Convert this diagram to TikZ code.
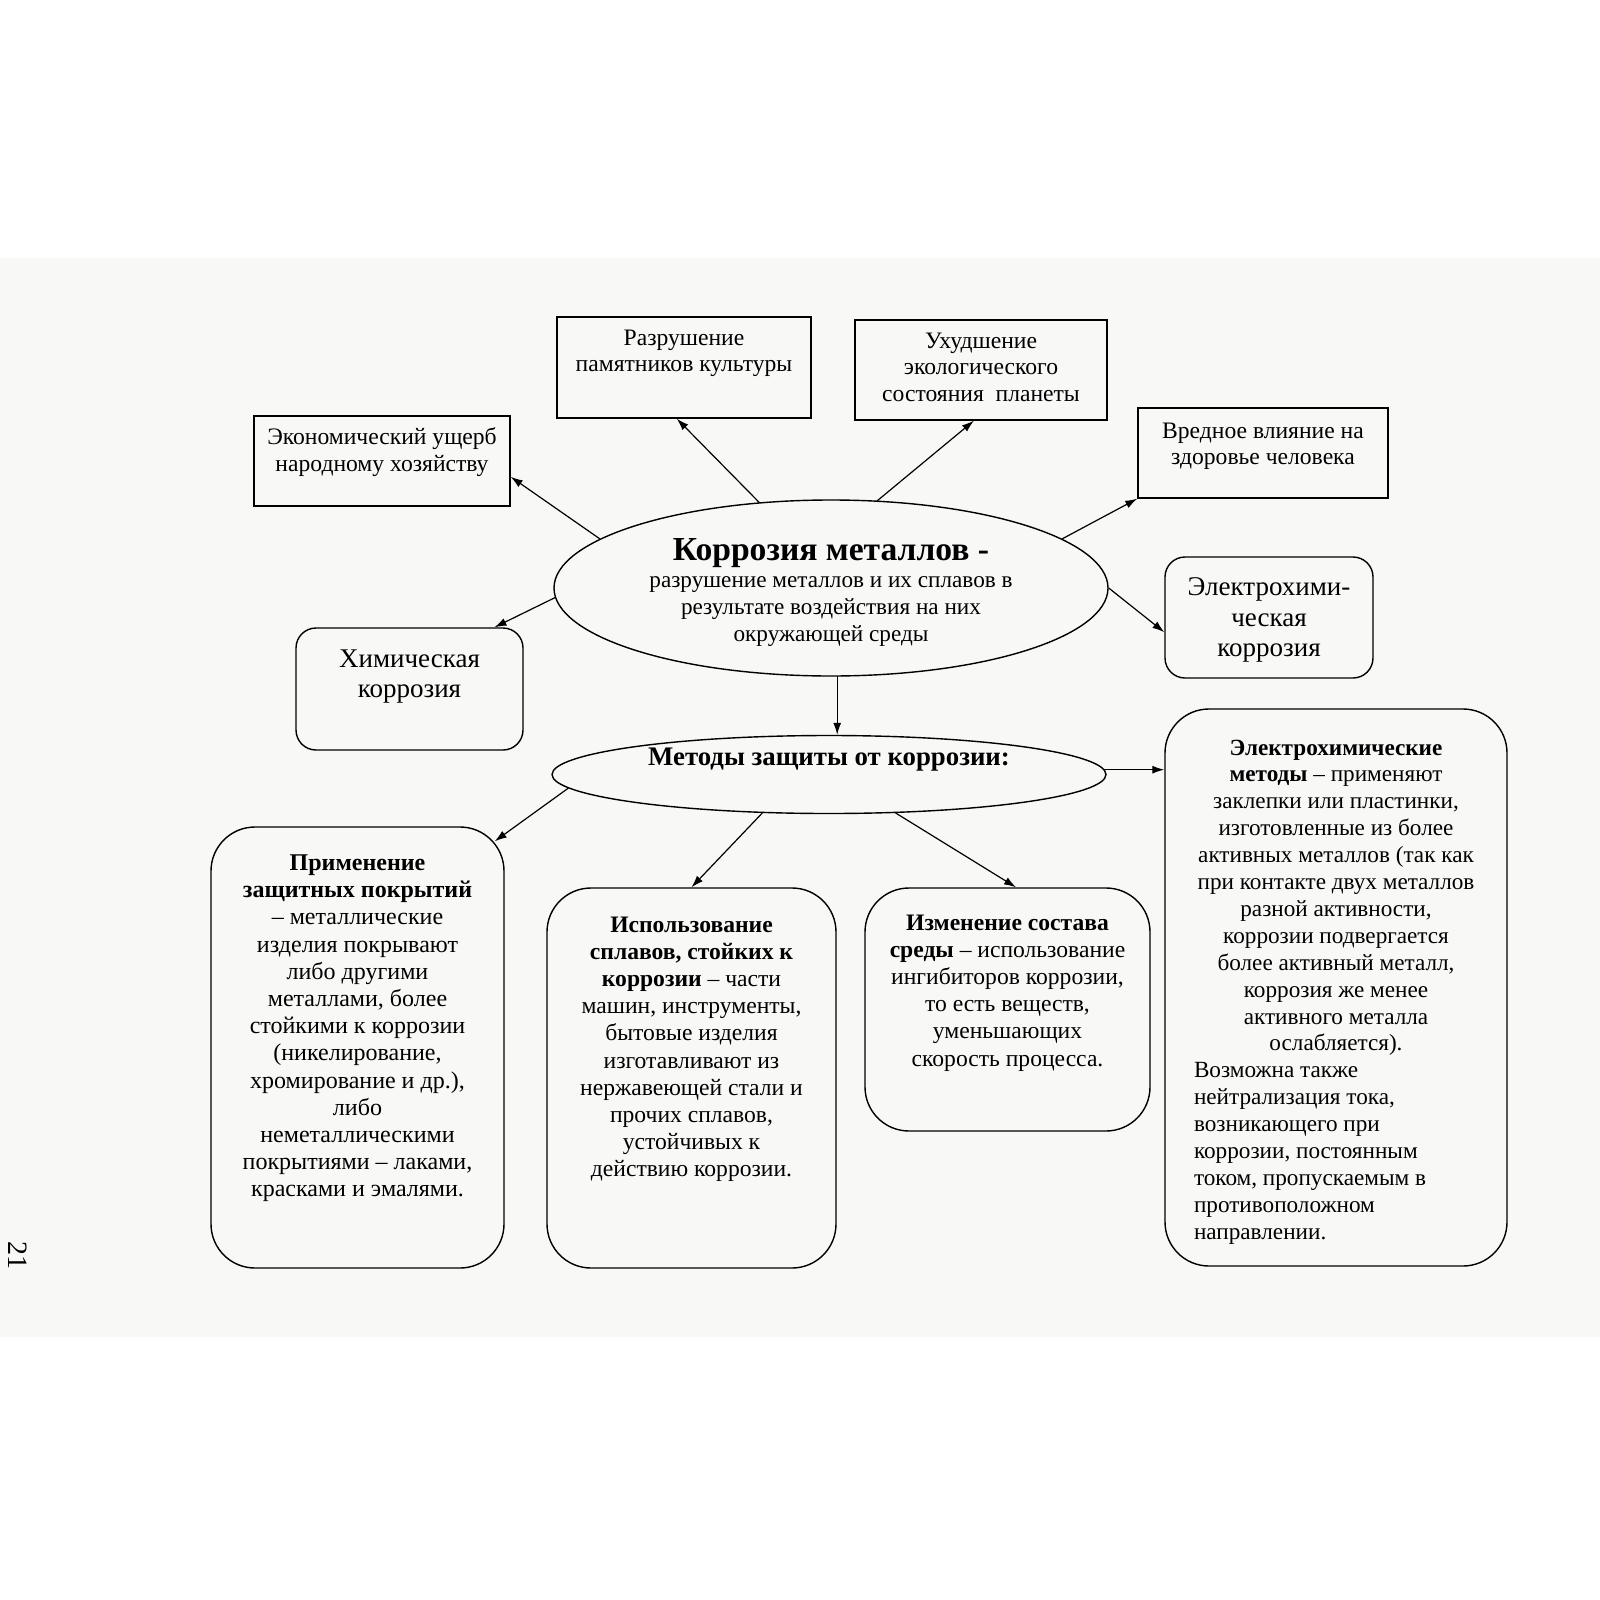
\documentclass[tikz,border=0pt]{standalone}
\usepackage{fontspec}
\setmainfont{Liberation Serif}
\usetikzlibrary{positioning,shapes.geometric,calc,arrows.meta}

\definecolor{pagetint}{RGB}{248,248,247}

\tikzset{
  plainbox/.style={draw, rectangle, inner sep=0pt, line width=0.7pt},
  roundbox/.style={draw, rectangle, rounded corners=10pt, inner sep=0pt, line width=0.7pt},
  bigbox/.style={draw, rectangle, rounded corners=22pt, inner sep=0pt, line width=0.7pt},
  oval/.style={draw, ellipse, inner sep=0pt, line width=0.7pt},
  smalltext/.style={inner sep=0pt, align=center, font=\fontsize{11.8}{13.3}\selectfont},
  largetext/.style={inner sep=0pt, align=center, font=\fontsize{13.5}{15.3}\selectfont},
  methtext/.style={inner sep=0pt, align=center, font=\fontsize{11.8}{13.6}\selectfont},
  link/.style={->, line width=0.6pt}
}

\begin{document}
\begin{tikzpicture}[x=0.5pt,y=-0.5pt,cap=round,>={Latex[length=6pt,width=4pt]}]
  \useasboundingbox (0,0) rectangle (1600,1600);
  % scanned page
  \fill[pagetint] (0,258) rectangle (1600,1337);

  % consequences of corrosion
  \node[plainbox, minimum width=128pt, minimum height=45pt] (econ) at (382,461) {};
  \node[plainbox, minimum width=127pt, minimum height=50.5pt] (raz) at (684,367.5) {};
  \node[plainbox, minimum width=126pt, minimum height=50pt] (ukh) at (981,370) {};
  \node[plainbox, minimum width=125pt, minimum height=45pt] (vred) at (1263,453) {};

  \node[smalltext, below=6pt of econ.north] (econtxt) {Экономический ущерб\\народному хозяйству};
  \node[smalltext, below=6.5pt of raz.north] (raztxt) {Разрушение\\памятников культуры};
  \node[smalltext, below=6.5pt of ukh.north] (ukhtxt) {Ухудшение\\экологического\\состояния~~планеты};
  \node[smalltext, below=7.5pt of vred.north] (vredtxt) {Вредное влияние на\\здоровье человека};

  % kinds of corrosion
  \node[roundbox, minimum width=113.5pt, minimum height=61pt] (khim) at (409.5,689) {};
  \node[roundbox, minimum width=104pt, minimum height=60.5pt] (elec) at (1269,617.5) {};
  \node[largetext, below=11pt of khim.north] (khimtxt) {Химическая\\коррозия};
  \node[largetext, below=10.5pt of elec.north] (electxt) {Электрохими-\\ческая\\коррозия};

  % central definition
  \node[oval, minimum width=277pt, minimum height=88pt, align=center,
        font=\fontsize{11.6}{13.5}\selectfont] (core) at (831,588)
    {\rule{0pt}{15pt}{\fontsize{16.8}{18}\selectfont\bfseries Коррозия металлов -}\\
     разрушение металлов и их сплавов в\\
     результате воздействия на них\\
     окружающей среды};

  % protection methods
  \node[oval, minimum width=277pt, minimum height=39pt] (meth) at (829,774.5) {};
  \node[inner sep=0pt, font=\fontsize{13.4}{15}\selectfont\bfseries] (methtxt) at (829,760)
    {Методы защиты от коррозии:};

  \node[bigbox, minimum width=146.5pt, minimum height=220.5pt] (cover) at (357.5,1047.5) {};
  \node[bigbox, minimum width=144.5pt, minimum height=190pt] (alloy) at (691.5,1078) {};
  \node[bigbox, minimum width=142.5pt, minimum height=121.5pt] (medium) at (1007.5,1009.5) {};
  \node[bigbox, minimum width=171pt, minimum height=278.5pt] (elmeth) at (1336,987.5) {};

  \node[methtext, font=\fontsize{12}{13.6}\selectfont, below=14pt of cover.north] (covertxt)
    {\textbf{Применение}\\
     \textbf{защитных покрытий}\\
     – металлические\\
     изделия покрывают\\
     либо другими\\
     металлами, более\\
     стойкими к коррозии\\
     (никелирование,\\
     хромирование и др.),\\
     либо\\
     неметаллическими\\
     покрытиями – лаками,\\
     красками и эмалями.};
  \node[methtext, below=14.5pt of alloy.north] (alloytxt)
    {\textbf{Использование}\\
     \textbf{сплавов, стойких к}\\
     \textbf{коррозии} – части\\
     машин, инструменты,\\
     бытовые изделия\\
     изготавливают из\\
     нержавеющей стали и\\
     прочих сплавов,\\
     устойчивых к\\
     действию коррозии.};
  \node[methtext, below=13.5pt of medium.north] (mediumtxt)
    {\textbf{Изменение состава}\\
     \textbf{среды} – использование\\
     ингибиторов коррозии,\\
     то есть веществ,\\
     уменьшающих\\
     скорость процесса.};
  \node[methtext, font=\fontsize{11.6}{13.45}\selectfont, align=none, text width=170pt,
        below=15.5pt of elmeth.north] (elmethtxt)
    {\centering
     \textbf{Электрохимические}\\
     \textbf{методы} – применяют\\
     заклепки или пластинки,\\
     изготовленные из более\\
     активных металлов (так как\\
     при контакте двух металлов\\
     разной активности,\\
     коррозии подвергается\\
     более активный металл,\\
     коррозия же менее\\
     активного металла\\
     ослабляется).\par
     \raggedright\leftskip=14pt
     Возможна также\\
     нейтрализация тока,\\
     возникающего при\\
     коррозии, постоянным\\
     током, пропускаемым в\\
     противоположном\\
     направлении.\par};

  % arrows from the definition
  \draw[link] (core.168) -- (econ.-7);
  \draw[link] (core.130) -- (raz.-98);
  \draw[link] (core.62) -- (ukh.-98);
  \draw[link] (core.12) -- (vred.south west);
  \draw[link] (core.east) -- (elec.188);
  \draw[link] (core.182) -- (khim.36);
  \draw[link] (core.-86) -- (core.-86 |- meth.north);

  % arrows to the methods
  \draw[link] (meth.183) -- ($(cover.north east)+(-10,15)$);
  \draw[link] (meth.210) -- (alloy.north);
  \draw[link] (meth.-30) -- (medium.86);
  \draw[link] (meth.1) -- (meth.1 -| elmeth.west);

  % page number
  \node[rotate=-90, inner sep=0pt, font=\fontsize{14}{14}\selectfont] (pagenum) at (18,1255) {21};
\end{tikzpicture}
\end{document}
